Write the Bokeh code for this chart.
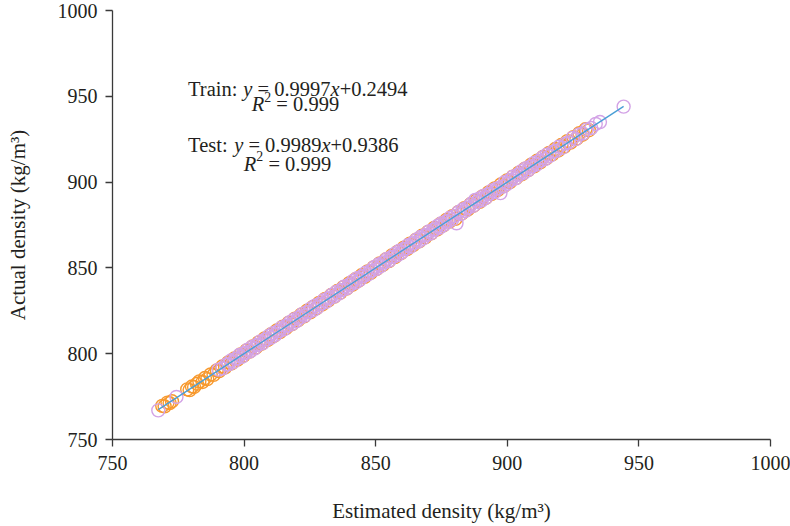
from bokeh.plotting import figure
from bokeh.models import Range1d, FixedTicker, Label, ColumnDataSource
from bokeh.embed import file_html
from bokeh.resources import INLINE

# ---------------- data ----------------
# Training set (orange circles): estimated vs actual density
train_est = [768.9, 769.8, 770.9, 771.7, 772.6, 778.4, 779.3, 780.2, 781.0, 782.1,
             783.0, 784.2, 785.1, 786.0, 787.3, 788.4, 789.6, 790.5, 791.7, 792.8,
             794.0, 795.2, 796.3, 797.5, 798.6, 799.8, 800.9, 802.1, 803.2, 804.4,
             805.5, 806.7, 807.8, 809.0, 810.1, 811.3, 812.4, 813.6, 814.7, 815.9,
             817.0, 818.2, 819.3, 820.5, 821.6, 822.8, 823.9, 825.1, 826.2, 827.4,
             828.5, 829.7, 830.8, 832.0, 833.1, 834.3, 835.4, 836.6, 837.7, 838.9,
             840.0, 841.2, 842.3, 843.5, 844.6, 845.8, 846.9, 848.1, 849.2, 850.4,
             851.5, 852.7, 853.8, 855.0, 856.1, 857.3, 858.4, 859.6, 860.7, 861.9,
             863.0, 864.2, 865.3, 866.5, 867.6, 868.8, 869.9, 871.1, 872.2, 873.4,
             874.5, 875.7, 876.8, 878.0, 879.1, 880.3, 881.4, 882.6, 883.7, 884.9,
             886.0, 887.2, 888.3, 889.5, 890.6, 891.8, 892.9, 894.1, 895.2, 896.4,
             897.5, 898.7, 899.8, 901.0, 902.1, 903.3, 904.4, 905.6, 906.7, 907.9,
             909.0, 910.2, 911.3, 912.5, 913.6, 914.8, 915.9, 917.1, 918.2, 919.4,
             920.5, 921.7, 922.8, 924.0, 925.1, 926.3, 927.4, 928.6, 929.7, 931.0]
train_act = [769.6, 769.3, 771.5, 771.2, 772.3, 779.2, 778.8, 780.9, 780.6, 782.5,
             783.9, 783.5, 785.8, 785.2, 787.9, 787.7, 790.3, 789.8, 792.5, 792.0,
             794.9, 794.3, 797.2, 796.6, 799.5, 798.9, 801.9, 801.2, 804.2, 803.5,
             806.6, 805.8, 808.9, 808.0, 811.2, 810.3, 813.5, 812.6, 815.8, 814.9,
             818.1, 817.2, 820.4, 819.5, 822.7, 821.8, 825.0, 824.1, 827.3, 826.4,
             829.6, 828.7, 831.9, 831.0, 834.2, 833.3, 836.5, 835.6, 838.8, 837.9,
             841.1, 840.2, 843.4, 842.5, 845.7, 844.8, 848.0, 847.1, 850.3, 849.4,
             852.6, 851.7, 854.9, 854.0, 857.2, 856.3, 859.5, 858.6, 861.8, 860.9,
             864.1, 863.2, 866.4, 865.5, 868.7, 867.8, 871.0, 870.1, 873.3, 872.4,
             875.6, 874.7, 877.9, 877.0, 880.2, 878.6, 882.5, 881.6, 884.8, 883.9,
             887.1, 886.2, 889.4, 888.5, 891.7, 890.8, 894.0, 893.1, 896.3, 895.4,
             898.6, 897.7, 900.9, 900.0, 903.2, 902.3, 905.5, 904.6, 907.8, 906.9,
             910.1, 909.2, 912.4, 911.5, 914.7, 913.8, 917.0, 916.1, 919.3, 918.4,
             921.6, 920.7, 923.9, 923.0, 926.2, 925.3, 928.5, 927.6, 930.8, 930.2]

# Test set (violet circles)
test_est = [795.0, 795.9, 796.6, 797.5, 798.2, 799.1, 799.8, 800.7, 801.4, 802.3,
            803.0, 803.9, 804.6, 805.5, 806.2, 807.1, 807.8, 808.7, 809.4, 810.3,
            811.0, 811.9, 812.6, 813.5, 814.2, 815.1, 815.8, 816.7, 817.4, 818.3,
            819.0, 819.9, 820.6, 821.5, 822.2, 823.1, 823.8, 824.7, 825.4, 826.3,
            827.0, 827.9, 828.6, 829.5, 830.2, 831.1, 831.8, 832.7, 833.4, 834.3,
            835.0, 835.9, 836.6, 837.5, 838.2, 839.1, 839.8, 840.7, 841.4, 842.3,
            843.0, 843.9, 844.6, 845.5, 846.2, 847.1, 847.8, 848.7, 849.4, 850.3,
            851.0, 851.9, 852.6, 853.5, 854.2, 855.1, 855.8, 856.7, 857.4, 858.3,
            859.0, 859.9, 860.6, 861.5, 862.2, 863.1, 863.8, 864.7, 865.4, 866.3,
            867.0, 867.9, 868.6, 869.5, 870.2, 871.1, 871.8, 872.7, 873.4, 874.3,
            875.0, 875.9, 876.6, 877.5, 878.2, 879.1, 879.8, 880.7, 881.4, 882.3,
            883.0, 883.9, 884.6, 885.5, 886.2, 887.1, 887.8, 888.7, 889.4, 890.3,
            891.0, 891.9, 892.6, 893.5, 894.2, 895.1, 895.8, 896.7, 897.4, 898.3,
            899.0, 899.9, 900.6, 901.5, 902.2, 903.1, 903.8, 904.7, 905.4, 906.3,
            907.0, 907.9, 908.6, 909.5, 910.2, 911.1, 911.8, 912.7, 913.4, 914.3,
            915.0, 916.1, 917.2, 918.4, 919.6, 920.9, 922.1, 923.4, 924.8, 926.0,
            927.3, 928.7, 930.2, 931.9, 933.6, 935.2, 944.2, 767.4, 774.3, 790.3,
            791.8, 793.2, 794.1]
test_act = [796.0, 795.0, 797.0, 797.2, 799.2, 798.2, 800.2, 800.4, 802.4, 801.4,
            804.0, 803.0, 805.0, 805.2, 807.2, 806.2, 808.2, 808.4, 810.4, 809.4,
            812.0, 811.0, 813.0, 813.2, 815.2, 814.2, 816.2, 816.4, 818.4, 817.4,
            820.0, 819.0, 821.0, 821.2, 823.2, 822.2, 824.2, 824.4, 826.4, 825.4,
            828.0, 827.0, 829.0, 829.2, 831.2, 830.2, 832.2, 832.4, 834.4, 833.4,
            836.0, 835.0, 837.0, 837.2, 839.2, 838.2, 840.2, 840.4, 842.4, 841.4,
            844.0, 843.0, 845.0, 845.2, 847.2, 846.2, 848.2, 848.4, 850.4, 849.4,
            852.0, 851.0, 853.0, 853.2, 855.2, 854.2, 856.2, 856.4, 858.4, 857.4,
            860.0, 859.0, 861.0, 861.2, 863.2, 862.2, 864.2, 864.4, 866.4, 865.4,
            868.0, 867.0, 869.0, 869.2, 871.2, 870.2, 872.2, 872.4, 874.4, 873.4,
            876.0, 875.0, 877.0, 877.2, 879.2, 878.2, 880.2, 876.0, 882.4, 881.4,
            884.0, 883.0, 885.0, 885.2, 887.2, 886.2, 889.6, 888.4, 890.4, 889.4,
            892.0, 891.0, 893.0, 893.2, 895.2, 894.2, 896.2, 896.4, 893.6, 897.4,
            900.0, 899.0, 901.0, 901.2, 903.2, 902.2, 904.2, 904.4, 906.4, 905.4,
            908.0, 907.0, 909.0, 909.2, 911.2, 910.2, 912.2, 912.4, 914.4, 913.4,
            916.0, 915.2, 917.6, 918.1, 920.6, 920.0, 922.5, 923.1, 925.8, 925.1,
            927.8, 928.3, 930.7, 931.5, 933.9, 935.0, 944.0, 767.0, 774.8, 790.7,
            791.4, 793.7, 793.8]

train_slope, train_intercept = 0.9997, 0.2494
test_slope, test_intercept = 0.9989, 0.9386
train_r2, test_r2 = 0.999, 0.999

axis_ticks = [750, 800, 850, 900, 950, 1000]
x_label = "Estimated density (kg/m³)"
y_label = "Actual density (kg/m³)"

# ---------------- styling ----------------
FONT = "Liberation Serif"
TXT = "#231f20"
AX = "#3a3a3a"
ORANGE = "#f7992e"
VIOLET = "#d3a3e6"
BLUE = "#4a9fd6"

p = figure(width=790, height=526, output_backend="svg", toolbar_location=None,
           x_range=Range1d(750, 1000), y_range=Range1d(750, 1000),
           min_border_left=112, min_border_right=20, min_border_top=10, min_border_bottom=87)
p.outline_line_color = None
p.grid.visible = False
p.background_fill_color = "white"
p.border_fill_color = "white"

for ax in (p.xaxis[0], p.yaxis[0]):
    ax.ticker = FixedTicker(ticks=axis_ticks)
    ax.minor_tick_line_color = None
    ax.major_tick_in = 0
    ax.major_tick_out = 7
    ax.axis_line_color = AX
    ax.axis_line_width = 1.3
    ax.major_tick_line_color = AX
    ax.major_tick_line_width = 1.3
    ax.major_label_text_font = FONT
    ax.major_label_text_font_size = "20px"
    ax.major_label_text_color = TXT
    ax.axis_label_text_font = FONT
    ax.axis_label_text_font_size = "21px"
    ax.axis_label_text_font_style = "normal"
    ax.axis_label_text_color = TXT

p.xaxis.axis_label = x_label
p.yaxis.axis_label = y_label
p.xaxis.major_label_standoff = 9
p.yaxis.major_label_standoff = 8
p.xaxis.axis_label_standoff = 26
p.yaxis.axis_label_standoff = 25

# scatter points
train_src = ColumnDataSource(dict(x=train_est, y=train_act))
test_src = ColumnDataSource(dict(x=test_est, y=test_act))
p.scatter("x", "y", source=train_src, marker="circle", size=13, fill_color=None,
          line_color=ORANGE, line_width=1.4)
p.scatter("x", "y", source=test_src, marker="circle", size=13, fill_color=None,
          line_color=VIOLET, line_width=1.4)

# fitted line
x0, x1 = min(test_est + train_est), max(test_est + train_est)
p.line([x0, x1], [train_slope * x0 + train_intercept, train_slope * x1 + train_intercept],
       line_color=BLUE, line_width=1.4)

# ---------------- annotation ----------------
F = 20.5
W = {'T': 611, 'r': 333, 'a': 444, 'i': 278, 'n': 500, ':': 278, ' ': 250, 'e': 444, 's': 389,
     't': 278, '=': 564, '+': 564, '.': 250, 'R': 611, 'y': 444, 'x': 444}


def tw(s, size):
    return sum(W.get(c, 500) for c in s) * size / 1000.0


SP = 250 * F / 1000.0


def eq_segments(name, slope, intercept):
    return [(name + ":", "normal", SP), ("y", "italic", SP),
            ("= %.4f" % slope, "normal", 0), ("x", "italic", 0), ("+%.4f" % intercept, "normal", 0)]


def r2_segments(r2):
    return [("R", "italic", 0), ("2", "sup", SP), ("= %.3f" % r2, "normal", 0)]


def place(xd, yd, segs, align):
    widths = []
    for txt, style, gap in segs:
        size = F * 0.68 if style == "sup" else F
        widths.append(tw(txt, size) + gap)
    total = sum(widths)
    off = -total / 2 if align == "center" else 0
    for (txt, style, gap), w in zip(segs, widths):
        sup = style == "sup"
        p.add_layout(Label(x=xd, y=yd, x_offset=off, y_offset=(F * 0.36 if sup else 0), text=txt,
                           text_font=FONT, text_font_size="%.1fpx" % (F * 0.68 if sup else F),
                           text_font_style=("italic" if style == "italic" else "normal"),
                           text_color=TXT, text_baseline="alphabetic", text_align="left"))
        off += w


place(778.7, 954.2, eq_segments("Train", train_slope, train_intercept), "left")
place(819.5, 945.4, r2_segments(train_r2), "center")
place(778.7, 921.4, eq_segments("Test", test_slope, test_intercept), "left")
place(816.5, 910.8, r2_segments(test_r2), "center")

open("out.html", "w").write(file_html(p, INLINE))
